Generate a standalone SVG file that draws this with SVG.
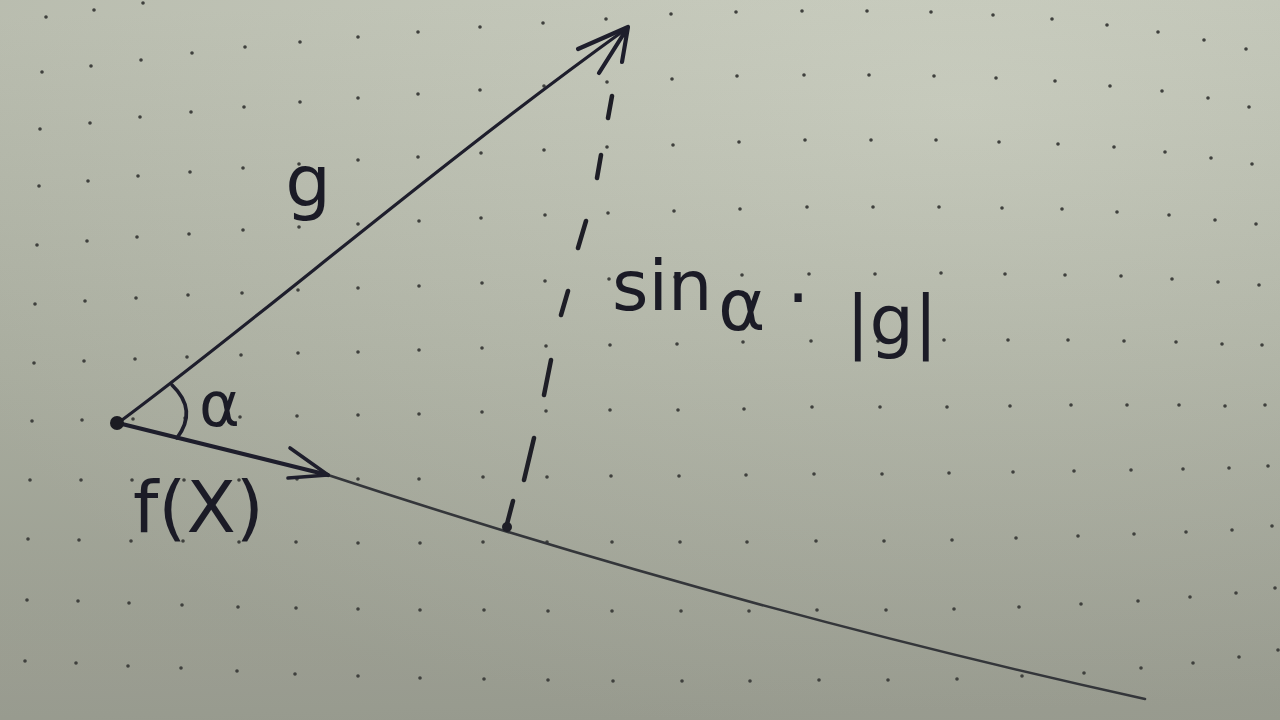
<svg xmlns="http://www.w3.org/2000/svg" width="1280" height="720" viewBox="0 0 1280 720">
<defs>
<linearGradient id="paperGrad" x1="0.45" y1="0" x2="0.5" y2="1">
<stop offset="0" stop-color="#c6cabb"/>
<stop offset="0.5" stop-color="#b6baab"/>
<stop offset="1" stop-color="#a4a79a"/>
</linearGradient>
<radialGradient id="shade" cx="0.75" cy="0.15" r="0.9">
<stop offset="0" stop-color="#ffffff" stop-opacity="0.08"/>
<stop offset="1" stop-color="#000000" stop-opacity="0.08"/>
</radialGradient>
</defs>
<style>
.dots{fill:none;stroke:#3f403d;stroke-width:3.6;stroke-linecap:round}
.ink{fill:none;stroke:#1e1e2c;stroke-linecap:round;stroke-linejoin:round}
.pencil{fill:none;stroke:#34363a;stroke-width:2.6;stroke-linecap:round;stroke-linejoin:round}
.dash{fill:none;stroke:#1e1e26;stroke-width:4.5;stroke-linecap:round}
.lbl{font-family:"DejaVu Sans","Liberation Sans",sans-serif;fill:#1b1b26}
</style>
<g id="paper">
<rect width="1280" height="720" fill="url(#paperGrad)"/>
<rect width="1280" height="720" fill="url(#shade)"/>
</g>
<g id="grid-dots">
<path class="dots" d="M46 17h.01M94 10h.01M143 3h.01
M42 72h.01M40 129h.01M39 186h.01M37 245h.01M35 304h.01M34 363h.01M32 421h.01M30 480h.01M28 539h.01M27 600h.01M25 661h.01
M91 66h.01M90 123h.01M88 181h.01M87 241h.01M85 301h.01M84 361h.01M82 420h.01M81 480h.01M79 540h.01M78 601h.01M76 663h.01
M141 60h.01M140 117h.01M138 176h.01M137 237h.01M136 298h.01M135 359h.01M133 419h.01M132 480h.01M131 541h.01M129 603h.01M128 666h.01
M192 53h.01M191 112h.01M190 172h.01M189 234h.01M188 295h.01M187 357h.01M185 418h.01M184 480h.01M183 541h.01M182 605h.01M181 668h.01
M245 47h.01M244 107h.01M243 168h.01M243 230h.01M242 293h.01M241 355h.01M240 417h.01M239 480h.01M239 542h.01M238 607h.01M237 671h.01
M300 42h.01M300 102h.01M299 164h.01M299 227h.01M298 290h.01M298 353h.01M297 416h.01M297 479h.01M296 542h.01M296 608h.01M295 674h.01
M358 37h.01M358 98h.01M358 160h.01M358 224h.01M358 288h.01M358 352h.01M358 415h.01M358 479h.01M358 543h.01M358 609h.01M358 676h.01
M418 32h.01M418 94h.01M418 157h.01M419 221h.01M419 286h.01M419 350h.01M419 414h.01M419 479h.01M420 543h.01M420 610h.01M420 678h.01
M480 27h.01M480 90h.01M481 153h.01M481 218h.01M482 283h.01M482 348h.01M482 412h.01M483 477h.01M483 542h.01M484 610h.01M484 679h.01
M543 23h.01M544 86h.01M544 150h.01M545 215h.01M545 281h.01M546 346h.01M546 411h.01M547 477h.01M547 542h.01M548 611h.01M548 680h.01
M606 19h.01M607 82h.01M607 147h.01M608 213h.01M609 279h.01M610 345h.01M610 410h.01M611 476h.01M612 542h.01M612 611h.01M613 681h.01
M671 14h.01M672 79h.01M673 145h.01M674 211h.01M675 277h.01M677 344h.01M678 410h.01M679 476h.01M680 542h.01M681 611h.01M682 681h.01
M736 12h.01M737 76h.01M739 142h.01M740 209h.01M742 275h.01M743 342h.01M744 409h.01M746 475h.01M747 542h.01M749 611h.01M750 681h.01
M802 11h.01M804 75h.01M805 140h.01M807 207h.01M809 274h.01M811 341h.01M812 407h.01M814 474h.01M816 541h.01M817 610h.01M819 680h.01
M867 11h.01M869 75h.01M871 140h.01M873 207h.01M875 274h.01M878 341h.01M880 407h.01M882 474h.01M884 541h.01M886 610h.01M888 680h.01
M931 12h.01M934 76h.01M936 140h.01M939 207h.01M941 273h.01M944 340h.01M947 407h.01M949 473h.01M952 540h.01M954 609h.01M957 679h.01
M993 15h.01M996 78h.01M999 142h.01M1002 208h.01M1005 274h.01M1008 340h.01M1010 406h.01M1013 472h.01M1016 538h.01M1019 607h.01M1022 676h.01
M1052 19h.01M1055 81h.01M1058 144h.01M1062 209h.01M1065 275h.01M1068 340h.01M1071 405h.01M1074 471h.01M1078 536h.01M1081 604h.01M1084 673h.01
M1107 25h.01M1110 86h.01M1114 147h.01M1117 212h.01M1121 276h.01M1124 341h.01M1127 405h.01M1131 470h.01M1134 534h.01M1138 601h.01M1141 668h.01
M1158 32h.01M1162 91h.01M1165 152h.01M1169 215h.01M1172 279h.01M1176 342h.01M1179 405h.01M1183 469h.01M1186 532h.01M1190 597h.01M1193 663h.01
M1204 40h.01M1208 98h.01M1211 158h.01M1215 220h.01M1218 282h.01M1222 344h.01M1225 406h.01M1229 468h.01M1232 530h.01M1236 593h.01M1239 657h.01
M1246 49h.01M1249 107h.01M1252 164h.01M1256 224h.01M1259 285h.01M1262 345h.01M1265 405h.01M1268 466h.01M1272 526h.01M1275 588h.01M1278 650h.01"/>
</g>
<g id="connectors">
<g id="line-extension">
<path class="pencil" d="M328 475 Q736 609 1145 699"/>
</g>
<g id="vector-g">
<path class="ink" stroke="#22223a" stroke-width="3.2" d="M118 423 C260 318 430 170 626 29"/>
<path class="ink" stroke="#23234a" stroke-width="4.2" d="M578 49 L628 27 L599 73 M628 27 L622 62"/>
</g>
<g id="vector-fx">
<path class="ink" stroke-width="4.2" d="M118 423 L328 475"/>
<path class="ink" stroke-width="3.6" d="M290 448 L328 475 L288 478"/>
</g>
<g id="projection">
<path class="dash" d="M612 96 L608 118 M601 155 L597 178 M586 221 L578 248 M568 291 L561 315 M551 360 L544 395 M534 438 L524 480 M513 501 L507 524"/>
<circle cx="507" cy="527" r="5" fill="#1e1e26"/>
</g>
<g id="angle-arc">
<path class="ink" stroke-width="3.6" d="M172 385 Q198 410 177 438"/>
</g>
</g>
<g id="origin">
<circle cx="117" cy="423" r="7" fill="#1b1b22"/>
</g>
<g id="labels">
<text id="label-g" class="lbl" x="308" y="206" font-size="72" text-anchor="middle">g</text>
<text id="label-alpha" class="lbl" x="199" y="426" font-size="62">α</text>
<text id="label-fx" class="lbl" x="133" y="532" font-size="72">f(X)</text>
<text id="label-proj" class="lbl" font-size="70"><tspan x="612" y="310">sin</tspan><tspan x="718" y="330" font-size="72">α</tspan><tspan x="787" y="322">·</tspan><tspan x="846" y="345">|g|</tspan></text>
</g>
</svg>
